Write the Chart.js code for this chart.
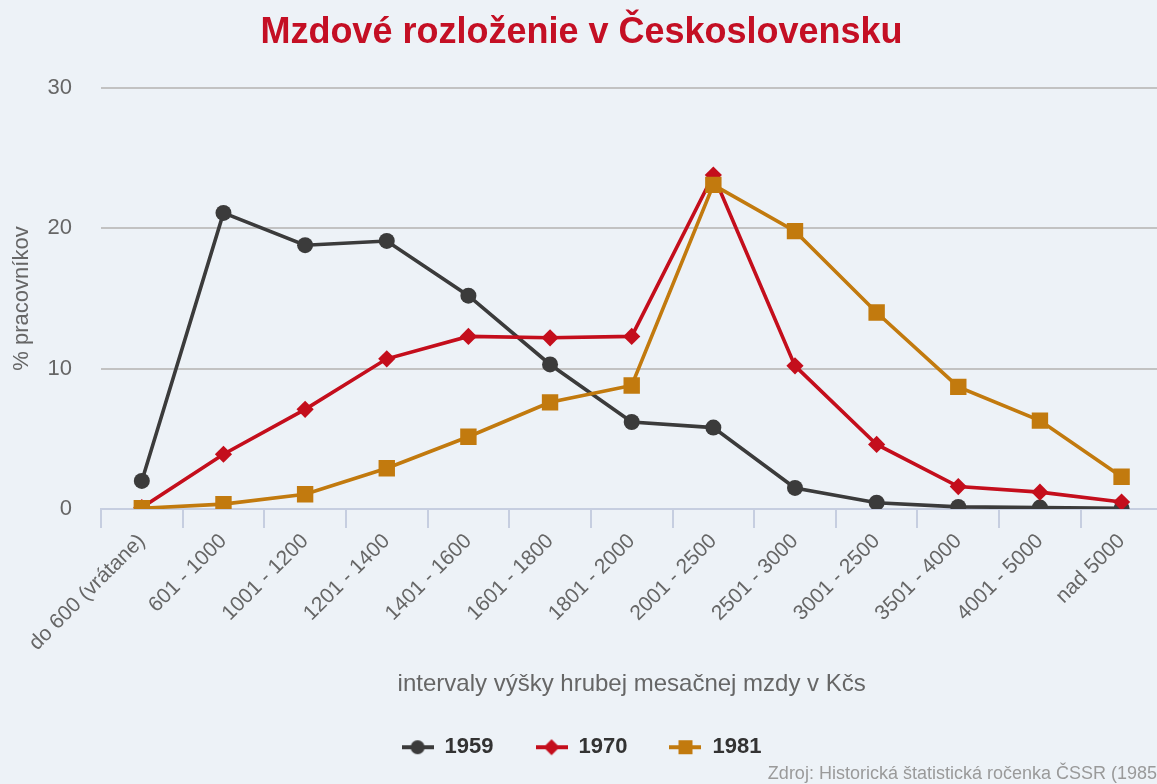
<!DOCTYPE html>
<html>
<head>
<meta charset="utf-8">
<script src="https://cdn.jsdelivr.net/npm/chart.js@4/dist/chart.umd.min.js"></script>
<style>
  html, body { margin: 0; padding: 0; background: #edf2f7; overflow: hidden; }
  #wrap { width: 1174px; height: 784px; }
  canvas { display: block; background: #edf2f7; }
</style>
</head>
<body>
<div id="wrap"><canvas id="c" width="1174" height="784"></canvas></div>
<script>
const categories = ['do 600 (vrátane)', '601 - 1000', '1001 - 1200', '1201 - 1400', '1401 - 1600', '1601 - 1800', '1801 - 2000', '2001 - 2500', '2501 - 3000', '3001 - 2500', '3501 - 4000', '4001 - 5000', 'nad 5000'];
const seriesNames = ['1959', '1970', '1981'];
const values1959 = [2.0, 21.1, 18.8, 19.1, 15.2, 10.3, 6.2, 5.8, 1.5, 0.45, 0.15, 0.1, 0.05];
const values1970 = [0.1, 3.9, 7.1, 10.7, 12.3, 12.2, 12.3, 23.8, 10.2, 4.6, 1.6, 1.2, 0.5];
const values1981 = [0.05, 0.35, 1.05, 2.9, 5.15, 7.6, 8.8, 23.1, 19.8, 14.0, 8.7, 6.3, 2.3];
const yTicks = [0, 10, 20, 30];

const FONT = '"Liberation Sans", Arial, Helvetica, sans-serif';
const colors = ['#3b3b3b', '#c40e1c', '#c27a0e'];
const styles = ['circle', 'rectRot', 'rect'];
const radii = [8, 8.6, 11.6];

function legendMarker(color, style) {
  const c = document.createElement('canvas');
  c.width = 32; c.height = 18;
  const g = c.getContext('2d');
  g.strokeStyle = color; g.fillStyle = color; g.lineWidth = 4;
  g.beginPath(); g.moveTo(0, 9); g.lineTo(32, 9); g.stroke();
  g.beginPath();
  if (style === 'circle') { g.arc(16, 9, 7, 0, Math.PI * 2); }
  else if (style === 'rectRot') { g.moveTo(16, 1); g.lineTo(24, 9); g.lineTo(16, 17); g.lineTo(8, 9); g.closePath(); }
  else { g.rect(9, 2, 14, 14); }
  g.fill();
  return c;
}

const seriesValues = [values1959, values1970, values1981];
const datasets = seriesNames.map((name, i) => ({
  label: name,
  data: seriesValues[i],
  borderColor: colors[i],
  backgroundColor: colors[i],
  borderWidth: 3.6,
  pointStyle: styles[i],
  pointRadius: radii[i],
  pointHoverRadius: radii[i],
  pointBorderWidth: 0,
  tension: 0,
  order: 2 - i
}));

new Chart(document.getElementById('c'), {
  type: 'line',
  data: { labels: categories, datasets },
  options: {
    responsive: false,
    animation: false,
    devicePixelRatio: 1,
    layout: { padding: { left: 0, right: 11, top: 0, bottom: 0 } },
    plugins: {
      tooltip: { enabled: false },
      title: {
        display: true,
        text: 'Mzdové rozloženie v Československu',
        color: '#c40f24',
        font: { family: FONT, size: 36, weight: 'bold', lineHeight: 1.2 },
        padding: { top: 11, bottom: 33.8 }
      },
      subtitle: {
        display: true,
        position: 'bottom',
        align: 'end',
        text: 'Zdroj: Historická štatistická ročenka ČSSR (1985)',
        color: '#9a9a9a',
        font: { family: FONT, size: 18, lineHeight: 1.1 },
        padding: { top: -4, bottom: 0 }
      },
      legend: {
        position: 'bottom',
        labels: {
          usePointStyle: true,
          pointStyleWidth: 32,
          padding: 42,
          color: '#333333',
          font: { family: FONT, size: 22, weight: 'bold' },
          generateLabels: (chart) => chart.data.datasets.map((ds, i) => ({
            text: ds.label,
            fillStyle: ds.borderColor,
            strokeStyle: ds.borderColor,
            lineWidth: 0,
            pointStyle: legendMarker(ds.borderColor, ds.pointStyle),
            fontColor: '#333333',
            hidden: false,
            datasetIndex: i
          }))
        }
      }
    },
    scales: {
      x: {
        type: 'category',
        offset: true,
        afterFit: (s) => { s.height = 185.2; s.paddingLeft = 0; s.paddingRight = 0; },
        grid: {
          offset: true,
          drawOnChartArea: false,
          drawTicks: true,
          tickLength: 19,
          color: '#c6cee0',
          lineWidth: 2
        },
        border: { display: true, color: '#c6cee0', width: 2 },
        ticks: {
          autoSkip: false,
          minRotation: 45,
          maxRotation: 45,
          padding: 1,
          color: '#666666',
          font: { family: FONT, size: 21 }
        },
        title: {
          display: true,
          text: 'intervaly výšky hrubej mesačnej mzdy v Kčs',
          color: '#666666',
          font: { family: FONT, size: 24, lineHeight: 1 },
          padding: { top: 0, bottom: -2 }
        }
      },
      y: {
        min: 0,
        max: 30,
        afterFit: (s) => { s.width = 101; },
        afterBuildTicks: (s) => { s.ticks = yTicks.map(v => ({ value: v })); },
        grid: { drawTicks: false, color: '#c2c2c2', lineWidth: 2 },
        border: { display: false },
        ticks: {
          padding: 29,
          color: '#666666',
          font: { family: FONT, size: 22 }
        },
        title: {
          display: true,
          text: '% pracovníkov',
          color: '#666666',
          font: { family: FONT, size: 22, lineHeight: 1.2 },
          padding: { top: 8.8, bottom: 0 }
        }
      }
    }
  }
});
</script>
</body>
</html>
